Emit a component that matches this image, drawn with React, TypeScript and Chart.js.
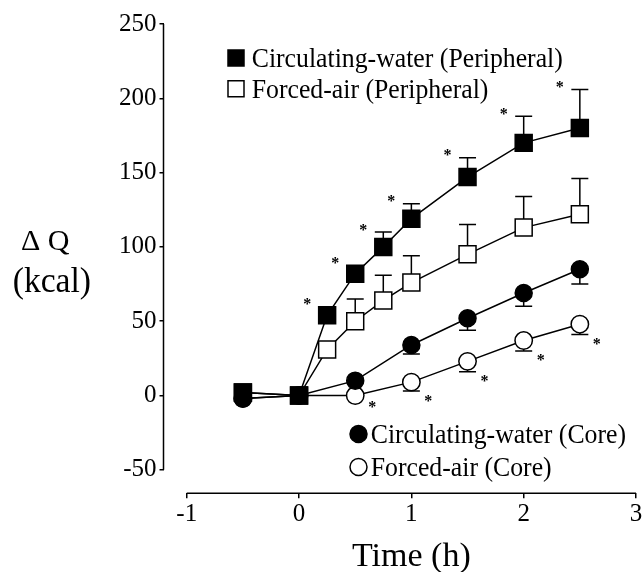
import React, { useEffect, useRef } from "react";
import { Chart, registerables } from "chart.js";

Chart.register(...registerables);

const FONT = "'Liberation Serif', 'Times New Roman', serif";

// ---- data ----
const periphTimes = [-0.5, 0, 0.25, 0.5, 0.75, 1, 1.5, 2, 2.5];
const coreTimes = [-0.5, 0, 0.5, 1, 1.5, 2, 2.5];

const cwPeriph = [2, 0, 54, 82, 100, 119, 147, 170, 180];
const cwPeriphUpper = [null, null, null, null, 110, 129, 160, 188, 206];
const faPeriph = [2, 0, 31, 50, 64, 76, 95, 113, 122];
const faPeriphUpper = [null, null, null, 65, 81, 94, 115, 134, 146];
const cwCore = [-2, 0, 10, 34, 52, 69, 85];
const cwCoreLower = [null, null, null, 28, 44, 60, 75];
const faCore = [-2, 0, 0, 9, 23, 37, 48];
const faCoreLower = [null, null, null, 3, 16, 30, 41];

const cwPeriphSig = [0.25, 0.5, 0.75, 1, 1.5, 2, 2.5];
const faCoreSig = [0.5, 1, 1.5, 2, 2.5];

const xTicks = [-1, 0, 1, 2, 3];
const yTicks = [-50, 0, 50, 100, 150, 200, 250];

const seriesLabels = [
  "Circulating-water (Peripheral)",
  "Forced-air (Peripheral)",
  "Circulating-water (Core)",
  "Forced-air (Core)",
];
const xTitle = "Time (h)";
const yTitleTop = "\u0394 Q";
const yTitleBottom = "(kcal)";

// ---- helpers ----
const CAP = 8.5;
const LW = 1.5;

function drawText(
  ctx: CanvasRenderingContext2D,
  text: string,
  x: number,
  y: number,
  size: number,
  scaleX: number,
  align: CanvasTextAlign,
  weight = "normal"
) {
  ctx.save();
  ctx.font = `${weight} ${size}px ${FONT}`;
  ctx.textBaseline = "alphabetic";
  ctx.textAlign = align;
  ctx.fillStyle = "#000";
  ctx.translate(x, y);
  ctx.scale(scaleX, 1);
  ctx.fillText(text, 0, 0);
  ctx.restore();
}

function drawMarker(
  ctx: CanvasRenderingContext2D,
  style: string,
  filled: boolean,
  x: number,
  y: number
) {
  ctx.save();
  ctx.lineWidth = LW;
  ctx.strokeStyle = "#000";
  ctx.fillStyle = filled ? "#000" : "#fff";
  ctx.beginPath();
  if (style === "rect") {
    ctx.rect(x - 8, y - 8, 16, 16);
  } else {
    ctx.arc(x, y, 8.5, 0, Math.PI * 2);
  }
  ctx.fill();
  ctx.stroke();
  ctx.restore();
}

const decorPlugin = {
  id: "decor",
  beforeDatasetsDraw(chart: any) {
    const { ctx, chartArea } = chart;
    const x = chart.scales.x;
    const y = chart.scales.y;
    ctx.save();
    ctx.strokeStyle = "#000";
    ctx.lineWidth = LW;
    // spines
    ctx.beginPath();
    ctx.moveTo(chartArea.left, y.getPixelForValue(yTicks[yTicks.length - 1]));
    ctx.lineTo(chartArea.left, y.getPixelForValue(yTicks[0]));
    ctx.moveTo(x.getPixelForValue(xTicks[0]), chartArea.bottom);
    ctx.lineTo(x.getPixelForValue(xTicks[xTicks.length - 1]), chartArea.bottom);
    ctx.stroke();
    // error bars
    chart.data.datasets.forEach((ds: any) => {
      if (!ds.errBounds) return;
      ds.data.forEach((p: any, i: number) => {
        const b = ds.errBounds[i];
        if (b == null) return;
        const px = x.getPixelForValue(p.x);
        const py = y.getPixelForValue(p.y);
        const pb = y.getPixelForValue(b);
        ctx.beginPath();
        ctx.moveTo(px, py);
        ctx.lineTo(px, pb);
        ctx.moveTo(px - CAP, pb);
        ctx.lineTo(px + CAP, pb);
        ctx.stroke();
      });
    });
    ctx.restore();
  },
  afterDatasetsDraw(chart: any) {
    const { ctx } = chart;
    const x = chart.scales.x;
    const y = chart.scales.y;
    // asterisks
    cwPeriphSig.forEach((t) => {
      const i = periphTimes.indexOf(t);
      const up = cwPeriphUpper[i];
      const top = up != null ? y.getPixelForValue(up) : y.getPixelForValue(cwPeriph[i]) - 8.5;
      drawText(ctx, "*", x.getPixelForValue(t) - 20, top - 6 + 8.5, 16, 1, "center", "bold");
    });
    faCoreSig.forEach((t) => {
      const i = coreTimes.indexOf(t);
      const lo = faCoreLower[i];
      const bottom = lo != null ? y.getPixelForValue(lo) : y.getPixelForValue(faCore[i]) + 2;
      drawText(ctx, "*", x.getPixelForValue(t) + 17, bottom + 6 + 8.5, 16, 1, "center", "bold");
    });
    // legends
    const items = [
      { i: 0, mx: 236, my: 58, tx: 251.7 },
      { i: 1, mx: 236, my: 88.7, tx: 251.7 },
      { i: 2, mx: 358.5, my: 434, tx: 370.7 },
      { i: 3, mx: 358.5, my: 467, tx: 370.7 },
    ];
    items.forEach((it) => {
      const ds = chart.data.datasets[it.i];
      drawMarker(ctx, ds.pointStyle, ds.pointBackgroundColor === "#000", it.mx, it.my);
      drawText(ctx, seriesLabels[it.i], it.tx, it.my + 9, 28, 0.92, "left");
    });
    // axis titles
    drawText(ctx, xTitle, x.getPixelForValue(1), 566, 34, 1, "center");
    drawText(ctx, yTitleTop, 21, 250, 30, 1, "left");
    drawText(ctx, yTitleBottom, 12.7, 291.5, 35, 0.96, "left");
  },
};

export default function App() {
  const ref = useRef<HTMLCanvasElement | null>(null);

  useEffect(() => {
    if (!ref.current) return;
    const mk = (
      times: number[],
      vals: number[],
      bounds: (number | null)[],
      label: string,
      style: string,
      filled: boolean,
      radius: number,
      order: number
    ) => ({
      label,
      data: times.map((t, i) => ({ x: t, y: vals[i] })),
      errBounds: bounds,
      borderColor: "#000",
      borderWidth: LW,
      pointStyle: style,
      pointRadius: radius,
      pointHoverRadius: radius,
      pointBackgroundColor: filled ? "#000" : "#fff",
      pointBorderColor: "#000",
      pointBorderWidth: LW,
      fill: false,
      tension: 0,
      order,
    });

    const chart = new Chart(ref.current, {
      type: "line",
      data: {
        datasets: [
          mk(periphTimes, cwPeriph, cwPeriphUpper, seriesLabels[0], "rect", true, 12, 0),
          mk(periphTimes, faPeriph, faPeriphUpper, seriesLabels[1], "rect", false, 12, 2),
          mk(coreTimes, cwCore, cwCoreLower, seriesLabels[2], "circle", true, 8.5, 1),
          mk(coreTimes, faCore, faCoreLower, seriesLabels[3], "circle", false, 8.7, 3),
        ] as any,
      },
      options: {
        animation: false,
        responsive: true,
        maintainAspectRatio: false,
        events: [],
        layout: { padding: { top: 24, right: 24, left: 0, bottom: 0 } },
        plugins: {
          legend: { display: false },
          tooltip: { enabled: false },
        },
        scales: {
          x: {
            type: "linear",
            min: -1.207,
            max: 3,
            afterBuildTicks: (s: any) => {
              s.ticks = xTicks.map((v) => ({ value: v }));
            },
            afterFit: (s: any) => {
              s.height = 572 - 493.3;
            },
            grid: {
              display: true,
              drawOnChartArea: false,
              drawTicks: true,
              tickLength: 5,
              color: "#000",
              lineWidth: LW,
            },
            border: { display: false },
            ticks: {
              font: { family: FONT, size: 25 },
              color: "#000",
              padding: 1,
              maxRotation: 0,
              autoSkip: false,
            },
          },
          y: {
            type: "linear",
            min: -65.8,
            max: 250,
            afterBuildTicks: (s: any) => {
              s.ticks = yTicks.map((v) => ({ value: v }));
            },
            afterFit: (s: any) => {
              s.width = 163.5;
            },
            grid: {
              display: true,
              drawOnChartArea: false,
              drawTicks: true,
              tickLength: 4,
              color: "#000",
              lineWidth: LW,
            },
            border: { display: false },
            ticks: {
              font: { family: FONT, size: 25 },
              color: "#000",
              padding: 3,
              autoSkip: false,
            },
          },
        },
      },
      plugins: [decorPlugin],
    });
    return () => chart.destroy();
  }, []);

  return (
    <div
      style={{
        position: "fixed",
        left: 0,
        top: 0,
        width: 644,
        height: 572,
        overflow: "hidden",
        background: "#fff",
      }}
    >
      <div style={{ position: "absolute", left: 0, top: 0, width: 660, height: 572 }}>
        <canvas ref={ref} />
      </div>
    </div>
  );
}
